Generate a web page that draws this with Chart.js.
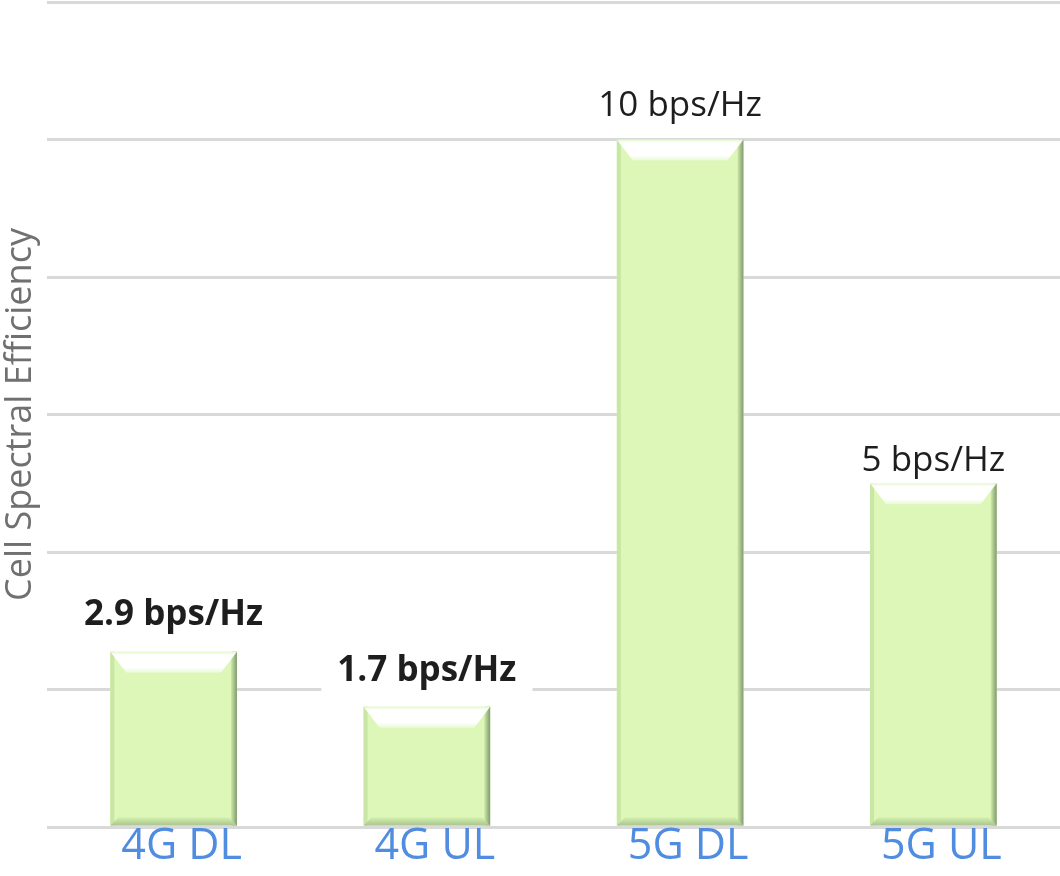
<!DOCTYPE html>
<html>
<head>
<meta charset="utf-8">
<script src="https://cdn.jsdelivr.net/npm/chart.js@4.4.0/dist/chart.umd.min.js"></script>
<style>
  html, body { margin: 0; padding: 0; background: #ffffff; }
  #wrap { width: 1060px; height: 876px; }
</style>
</head>
<body>
<div id="wrap"><canvas id="chart" width="1060" height="876"></canvas></div>
<script>
// Chart data
const categories = ['4G DL', '4G UL', '5G DL', '5G UL'];
const efficiency = [2.55, 1.75, 10, 5];
const valueLabels = ['2.9 bps/Hz', '1.7 bps/Hz', '10 bps/Hz', '5 bps/Hz'];

// label styling (kept apart from the data)
const labelLift = [27, 26, 24, 12];
const labelWeight = ['bold', 'bold', 'normal', 'normal'];

const FONT = '"Open Sans", "DejaVu Sans", sans-serif';

// draws the bevelled look on top of each bar
const bevelPlugin = {
    id: 'bevel',
    afterDatasetsDraw(chart) {
        const ctx = chart.ctx;
        chart.getDatasetMeta(0).data.forEach(bar => {
            const { x, y, base, width } = bar.getProps(['x', 'y', 'base', 'width'], true);
            const l = x - width / 2, r = x + width / 2;
            const d = 16;
            ctx.save();

            // left edge
            ctx.fillStyle = '#c8e6a4';
            ctx.fillRect(l, y, 4, base - y);
            // right edge
            const gr = ctx.createLinearGradient(r - 6, 0, r, 0);
            gr.addColorStop(0, '#cfeaa9');
            gr.addColorStop(1, '#7f9a6e');
            ctx.fillStyle = gr;
            ctx.fillRect(r - 6, y, 6, base - y);

            // bottom band
            ctx.beginPath();
            ctx.moveTo(l, base);
            ctx.lineTo(r, base);
            ctx.lineTo(r - 8, base - 8);
            ctx.lineTo(l + 8, base - 8);
            ctx.closePath();
            const gb = ctx.createLinearGradient(0, base - 8, 0, base);
            gb.addColorStop(0, '#d3f0ad');
            gb.addColorStop(1, '#a9c48f');
            ctx.fillStyle = gb;
            ctx.fill();

            // top highlight
            ctx.beginPath();
            ctx.moveTo(l, y);
            ctx.lineTo(r, y);
            ctx.lineTo(r - d, y + d + 5);
            ctx.lineTo(l + d, y + d + 5);
            ctx.closePath();
            const gt = ctx.createLinearGradient(0, y, 0, y + d + 5);
            gt.addColorStop(0, '#e3f8c8');
            gt.addColorStop(0.15, '#ffffff');
            gt.addColorStop(0.75, '#ffffff');
            gt.addColorStop(1, '#eaf9d6');
            ctx.fillStyle = gt;
            ctx.fill();

            ctx.restore();
        });
    }
};

// value labels above the bars
const valueLabelPlugin = {
    id: 'valueLabels',
    afterDatasetsDraw(chart) {
        const ctx = chart.ctx;
        chart.getDatasetMeta(0).data.forEach((bar, i) => {
            const { x, y } = bar.getProps(['x', 'y'], true);
            const by = y - labelLift[i];
            ctx.save();
            ctx.font = labelWeight[i] + ' 35px ' + FONT;
            const w = ctx.measureText(valueLabels[i]).width;
            ctx.fillStyle = '#ffffff';
            ctx.fillRect(x - w / 2 - 16, by - 34, w + 32, 46);
            ctx.fillStyle = '#1e1e1e';
            ctx.textAlign = 'center';
            ctx.textBaseline = 'alphabetic';
            ctx.fillText(valueLabels[i], x, by);
            ctx.restore();
        });
    }
};

try {
    const canvas = document.getElementById('chart');
    new Chart(canvas, {
        type: 'bar',
        data: {
            labels: categories,
            datasets: [{
                label: 'Cell Spectral Efficiency',
                data: efficiency,
                backgroundColor: '#dcf7b7',
                borderWidth: 0,
                categoryPercentage: 1,
                barPercentage: 0.5
            }]
        },
        options: {
            responsive: false,
            animation: false,
            layout: { padding: { top: 2, left: 0, right: 0, bottom: 0 } },
            plugins: {
                legend: { display: false },
                tooltip: { enabled: false }
            },
            scales: {
                x: {
                    grid: { display: false, drawTicks: false },
                    border: { display: false },
                    ticks: {
                        color: '#508ce0',
                        padding: 0,
                        labelOffset: 8,
                        maxRotation: 0,
                        autoSkip: false,
                        font: { family: FONT, size: 43, lineHeight: 0.9 }
                    },
                    afterFit(scale) { scale.height = 49; }
                },
                y: {
                    min: 0,
                    max: 12,
                    grid: { color: '#d9d9d9', lineWidth: 3, drawTicks: false },
                    border: { display: false },
                    ticks: { display: false, stepSize: 2 },
                    title: {
                        display: true,
                        text: 'Cell Spectral Efficiency',
                        color: '#707070',
                        padding: { top: 3, bottom: 0 },
                        font: { family: FONT, size: 36, lineHeight: 1 }
                    },
                    afterFit(scale) { scale.width = 47; }
                }
            }
        },
        plugins: [bevelPlugin, valueLabelPlugin]
    });
} catch (error) {
    console.error('Error drawing chart:', error);
}
</script>
</body>
</html>
